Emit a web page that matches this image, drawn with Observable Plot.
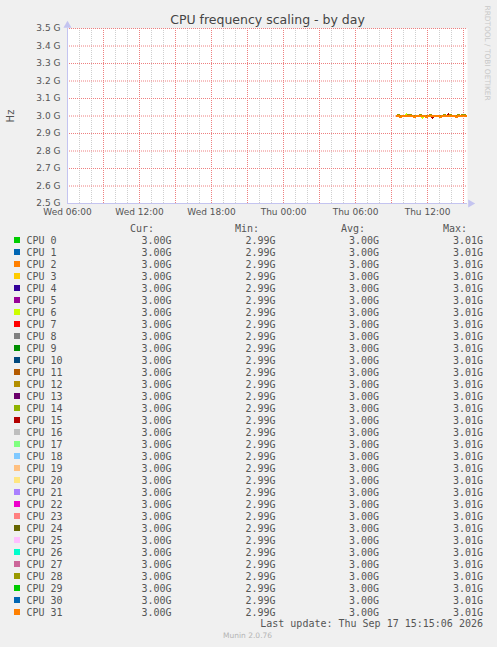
<!DOCTYPE html>
<html><head><meta charset="utf-8">
<script src="https://cdn.jsdelivr.net/npm/d3@7"></script>
<script src="https://cdn.jsdelivr.net/npm/@observablehq/plot@0.6"></script>
<style>
html,body{margin:0;padding:0;background:#f0f0f0;}
#wrap{position:relative;width:497px;height:647px;background:#f0f0f0;overflow:hidden;}
#chart{position:absolute;left:0;top:0;}
#legend{position:absolute;left:0;top:0;pointer-events:none;}
</style></head>
<body><div id="wrap"><div id="chart"></div><svg id="legend" width="497" height="647"></svg></div>
<script>
// ---- data ----
const title = "CPU frequency scaling - by day";
const yLabel = "Hz";
const xDomain = ["2026-09-16T06:00:00Z", "2026-09-17T15:20:00Z"];
const xTicks = ["2026-09-16T06:00:00Z","2026-09-16T12:00:00Z","2026-09-16T18:00:00Z","2026-09-17T00:00:00Z","2026-09-17T06:00:00Z","2026-09-17T12:00:00Z"];
const xTickLabels = ["Wed 06:00","Wed 12:00","Wed 18:00","Thu 00:00","Thu 06:00","Thu 12:00"];
const yTicks = [2.5,2.6,2.7,2.8,2.9,3.0,3.1,3.2,3.3,3.4,3.5];
const sampleTimes = ["09:25","09:35","09:45","09:55","10:05","10:15","10:25","10:35","10:45","10:55","11:05","11:15","11:25","11:35","11:45","11:55","12:05","12:15","12:25","12:35","12:45","12:55","13:05","13:15","13:25","13:35","13:45","13:55","14:05","14:15","14:25","14:35","14:45","14:55","15:05","15:15"];
// frequency patterns in GHz
const freqA = [3.000,3.000,2.995,3.000,3.000,3.000,3.000,3.000,3.000,2.995,3.000,3.000,3.000,3.000,3.000,2.995,3.000,3.000,3.000,3.000,3.000,3.000,2.995,3.000,3.000,3.000,3.000,3.000,3.000,3.000,2.995,3.000,3.000,3.000,3.000,3.000];
const freqB = [3.000,3.005,3.000,3.000,3.000,3.000,3.005,3.005,3.000,3.000,3.000,3.000,3.005,3.000,3.000,3.000,3.000,3.005,3.000,3.000,3.000,3.000,3.000,3.000,3.005,3.000,3.000,3.005,3.000,3.000,3.000,3.005,3.000,3.005,3.005,3.000];
const freqC = [3.000,3.000,3.000,3.000,3.000,3.000,3.000,3.000,3.000,3.000,3.000,3.000,3.000,3.000,3.000,3.000,3.000,3.000,2.990,3.000,3.000,3.000,3.000,3.000,3.000,3.000,3.010,3.000,3.000,3.000,3.000,3.000,3.000,3.000,3.000,3.000];
const freqD = [3.000,3.000,3.000,3.000,3.000,3.010,3.000,3.000,3.000,3.000,3.000,3.000,3.000,2.990,3.000,3.000,3.000,3.000,3.000,3.000,3.000,3.000,3.000,3.000,3.000,3.000,3.000,3.000,3.000,3.000,3.000,3.000,3.000,3.000,3.000,3.000];
const cpuNames = ["CPU 0","CPU 1","CPU 2","CPU 3","CPU 4","CPU 5","CPU 6","CPU 7","CPU 8","CPU 9","CPU 10","CPU 11","CPU 12","CPU 13","CPU 14","CPU 15","CPU 16","CPU 17","CPU 18","CPU 19","CPU 20","CPU 21","CPU 22","CPU 23","CPU 24","CPU 25","CPU 26","CPU 27","CPU 28","CPU 29","CPU 30","CPU 31"];
const cpuColors = ["#00CC00","#0066B3","#FF8000","#FFCC00","#330099","#990099","#CCFF00","#FF0000","#808080","#008F00","#00487D","#B35A00","#B38F00","#6B006B","#8FB300","#B30000","#BEBEBE","#80FF80","#80C9FF","#FFC080","#FFE680","#AA80FF","#EE00CC","#FF8080","#666600","#FFBFFF","#00FFCC","#CC6699","#999900","#00CC00","#0066B3","#FF8000"];
const cpuPattern = ["D","A","A","D","A","A","D","A","B","A","A","A","A","A","A","C","B","A","A","A","A","A","A","A","A","A","A","A","B","A","A","A"];
const curVals = [3.00,3.00,3.00,3.00,3.00,3.00,3.00,3.00,3.00,3.00,3.00,3.00,3.00,3.00,3.00,3.00,3.00,3.00,3.00,3.00,3.00,3.00,3.00,3.00,3.00,3.00,3.00,3.00,3.00,3.00,3.00,3.00];
const minVals = [2.99,2.99,2.99,2.99,2.99,2.99,2.99,2.99,2.99,2.99,2.99,2.99,2.99,2.99,2.99,2.99,2.99,2.99,2.99,2.99,2.99,2.99,2.99,2.99,2.99,2.99,2.99,2.99,2.99,2.99,2.99,2.99];
const avgVals = [3.00,3.00,3.00,3.00,3.00,3.00,3.00,3.00,3.00,3.00,3.00,3.00,3.00,3.00,3.00,3.00,3.00,3.00,3.00,3.00,3.00,3.00,3.00,3.00,3.00,3.00,3.00,3.00,3.00,3.00,3.00,3.00];
const maxVals = [3.01,3.01,3.01,3.01,3.01,3.01,3.01,3.01,3.01,3.01,3.01,3.01,3.01,3.01,3.01,3.01,3.01,3.01,3.01,3.01,3.01,3.01,3.01,3.01,3.01,3.01,3.01,3.01,3.01,3.01,3.01,3.01];
const lastUpdate = "Last update: Thu Sep 17 15:15:06 2026";
const footer = "Munin 2.0.76";
const watermark = "RRDTOOL / TOBI OETIKER";

// ---- build ----
const patterns = {A: freqA, B: freqB, C: freqC, D: freqD};
const rows = [];
cpuNames.forEach((cpu, i) => {
  const vals = patterns[cpuPattern[i]];
  sampleTimes.forEach((t, j) => rows.push({cpu, t: new Date(`2026-09-17T${t}:00Z`), v: vals[j]}));
});
const xd = xDomain.map(d => new Date(d));
const xt = xTicks.map(d => new Date(d));
const labelMap = new Map(xt.map((d, i) => [+d, xTickLabels[i]]));
const hours = d3.utcHour.range(xd[0], xd[1]);
const majors = d3.utcHour.every(3).range(xd[0], xd[1]);
const minors = hours.filter(h => h.getUTCHours() % 3 !== 0);
const axisColor = "#c4c4f0";
const majorColor = "#ee8080";
const minorColor = "#cfcfcf";

const chart = Plot.plot({
  width: 497, height: 220,
  marginLeft: 67, marginRight: 30, marginTop: 28, marginBottom: 17,
  style: {fontFamily: "DejaVu Sans", fontSize: "9px", color: "#555", background: "transparent", overflow: "visible"},
  x: {type: "utc", domain: xd, label: null},
  y: {domain: [2.5, 3.5], label: null},
  color: {domain: cpuNames, range: cpuColors},
  marks: [
    Plot.frame({fill: "white", stroke: null}),
    Plot.ruleX(minors, {stroke: minorColor, strokeDasharray: "1,1"}),
    Plot.ruleX(majors, {stroke: majorColor, strokeDasharray: "1,1"}),
    Plot.ruleY(yTicks, {stroke: majorColor, strokeDasharray: "1,1"}),
    Plot.line(rows, {x: "t", y: "v", z: "cpu", stroke: "cpu", strokeWidth: 2, shapeRendering: "crispEdges"}),
    Plot.ruleX([xd[0]], {stroke: axisColor}),
    Plot.ruleY([2.5], {stroke: axisColor}),
    Plot.dot([0], {frameAnchor: "top-left", symbol: "triangle", r: 3, fill: axisColor, stroke: null, dy: -3}),
    Plot.dot([0], {frameAnchor: "bottom-right", symbol: "triangle", rotate: 90, r: 3, fill: axisColor, stroke: null, dx: 3}),
    Plot.axisY(yTicks, {tickSize: 0, tickPadding: 7, tickFormat: d => d.toFixed(1) + " G", label: null}),
    Plot.axisX(xt, {tickSize: 0, tickPadding: 5, tickFormat: d => labelMap.get(+d), label: null}),
    Plot.text([title], {frameAnchor: "top", lineAnchor: "middle", textAnchor: "middle", dy: -9, fontSize: 12.5, fill: "#444"}),
    Plot.text([yLabel], {frameAnchor: "left", textAnchor: "middle", lineAnchor: "middle", rotate: -90, dx: -57, fontSize: 10, fill: "#555"}),
    Plot.text([watermark], {frameAnchor: "top-right", textAnchor: "start", lineAnchor: "middle", rotate: 90, dx: 20, dy: -23, fontSize: 7.4, fill: "#c8c8c8"})
  ]
});
document.getElementById("chart").appendChild(chart);

// ---- legend ----
const lg = d3.select("#legend");
const mono = "DejaVu Sans Mono";
function txt(x, y, s, anchor, opts = {}) {
  return lg.append("text").attr("x", x).attr("y", y).attr("dy", "0.35em")
    .attr("text-anchor", anchor).attr("font-family", opts.family || mono)
    .attr("font-size", opts.size || 10).attr("fill", opts.fill || "#555").text(s);
}
const hdrY = 228, row0 = 240, rowH = 12;
txt(154, hdrY, "Cur:", "end");
txt(259, hdrY, "Min:", "end");
txt(365, hdrY, "Avg:", "end");
txt(467, hdrY, "Max:", "end");
cpuNames.forEach((name, i) => {
  const y = row0 + i * rowH;
  lg.append("rect").attr("x", 14).attr("y", y - 3).attr("width", 6).attr("height", 6).attr("fill", cpuColors[i]);
  txt(26.5, y, name, "start");
  txt(171.5, y, curVals[i].toFixed(2) + "G", "end");
  txt(275.5, y, minVals[i].toFixed(2) + "G", "end");
  txt(379, y, avgVals[i].toFixed(2) + "G", "end");
  txt(483, y, maxVals[i].toFixed(2) + "G", "end");
});
txt(483, 623.5, lastUpdate, "end");
txt(223, 635, footer, "start", {family: "DejaVu Sans", size: 7.5, fill: "#b4b4b4"});
</script></body></html>
